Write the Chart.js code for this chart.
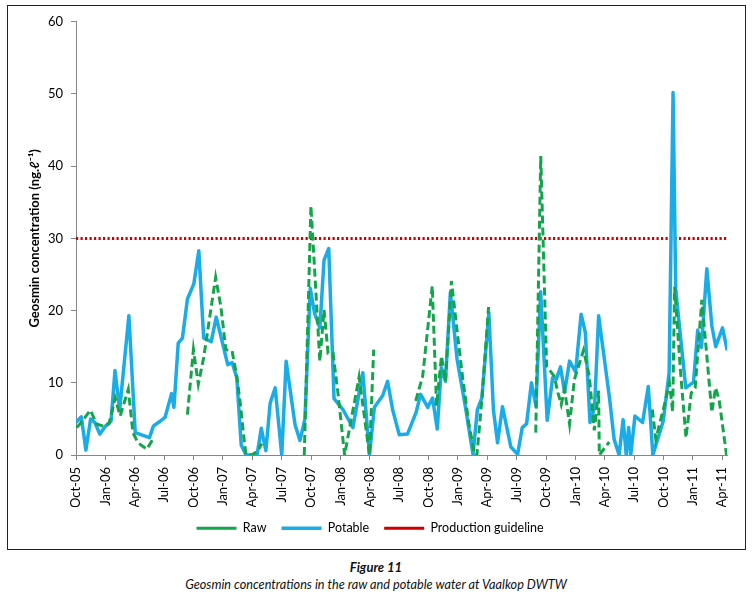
<!DOCTYPE html>
<html><head><meta charset="utf-8">
<script src="https://cdn.jsdelivr.net/npm/chart.js@4"></script>
<style>
html,body{margin:0;padding:0;background:#fff;width:752px;height:608px;overflow:hidden;}
#box{position:absolute;left:7px;top:5px;width:737px;height:543px;border:1px solid #222;}
#box canvas{display:block;}
.cap{position:absolute;left:0;width:752px;text-align:center;font-family:Lato,'Liberation Sans',sans-serif;font-style:italic;color:#111;font-size:12.7px;line-height:16px;}
</style></head>
<body>
<div id="box"><canvas id="c" width="737" height="543" style="width:737px;height:543px"></canvas></div>
<div class="cap" style="top:559px;font-weight:bold;font-size:13px;">Figure 11</div>
<div class="cap" style="top:576px;">Geosmin concentrations in the raw and potable water at Vaalkop DWTW</div>
<script>
const xTickLabels = ['Oct-05','Jan-06','Apr-06','Jul-06','Oct-06','Jan-07','Apr-07','Jul-07','Oct-07','Jan-08','Apr-08','Jul-08','Oct-08','Jan-09','Apr-09','Jul-09','Oct-09','Jan-10','Apr-10','Jul-10','Oct-10','Jan-11','Apr-11'];
const yTicks = [0,10,20,30,40,50,60];

// months since Oct-05
const potableMonths = [0,0.54,1.01,1.49,1.93,2.43,3.01,3.58,3.98,4.46,5.40,6.05,7.50,7.90,8.51,9.09,9.76,10.00,10.44,10.87,11.38,12.03,12.54,13.04,13.81,14.32,15.50,15.94,16.42,16.87,17.36,18.49,18.92,19.39,19.83,20.34,21.01,21.46,22.37,22.87,23.38,23.92,24.37,24.90,25.33,25.81,26.35,27.26,28.27,29.29,29.97,30.47,31.31,31.82,32.33,33.01,33.85,34.73,35.19,35.92,36.41,36.89,37.31,37.73,38.23,38.91,39.75,40.54,40.99,41.45,42.16,42.63,43.05,43.55,44.41,45.10,45.57,46.01,46.51,46.97,47.45,48.12,48.67,49.05,49.48,49.89,50.40,51.02,51.58,52.01,52.49,52.95,53.37,54.50,54.95,55.46,55.87,56.19,56.44,56.65,57.08,57.86,58.44,58.91,59.97,60.57,60.97,61.24,61.54,62.27,63.06,63.49,63.87,64.42,64.93,65.33,66.02,66.50];
const potableValues = [4.5,5.3,0.7,5.0,4.5,2.9,4.0,4.7,11.7,6.3,19.3,3.1,2.4,4.0,4.6,5.2,8.5,6.6,15.5,16.2,21.6,23.7,28.3,16.2,15.7,19.1,12.5,12.8,10.7,1.4,0,0,3.7,0.6,7.2,9.3,0,13.0,4.2,2.0,5.0,23.1,19.6,17.6,27.0,28.6,7.8,6.3,3.8,11.4,0,6.6,8.2,10.2,6.3,2.8,2.9,5.9,8.4,6.6,7.9,3.6,12.1,10.2,22.5,13.3,6.8,0.1,6.3,7.9,19.7,6.2,1.7,6.7,1.1,0.1,3.8,4.3,10.0,6.8,22.6,4.8,10.7,10.5,12.2,8.7,13.0,11.5,19.5,17.0,4.5,6.5,19.3,7.7,2.2,0,4.9,0,3.8,0,5.4,4.5,9.5,0,4.7,11.4,50.2,23.0,18.9,9.3,10.1,17.3,14.9,25.8,17.9,15.0,17.6,14.5];

const rawMonths = [0.07,0.41,1.47,2.10,2.77,3.37,4.00,4.51,5.34,5.81,6.32,7.23,7.90,8.5,11.38,11.99,12.49,13.04,14.26,14.80,15.30,15.94,16.42,16.79,17.20,17.36,17.94,18.58,18.98,20,23.31,23.99,24.39,24.90,25.33,25.74,26.25,26.75,27.43,28.91,29.97,30.40,33,34.69,35.40,36.38,36.82,37.32,37.73,38.34,38.91,39.42,40.10,40.71,40.94,41.45,42.13,45,46.95,47.46,48.06,48.84,49.22,49.55,49.89,50.40,50.90,51.83,52.42,52.93,53.37,53.44,54.45,57,58.85,59.21,60.19,60.60,60.93,61.13,61.71,62.29,62.83,63.23,63.91,64.93,65.31,65.67,66.43];
const rawValues = [3.8,4.3,6.2,4.3,4.0,4.3,7.9,5.4,9.1,3.1,1.7,0.8,2.3,null,5.6,14.6,9.8,13.5,24.6,20.5,14.6,14.4,10.9,7.0,1.7,0,0,0.6,1.6,null,0,34.5,25.1,13.0,20.1,14.1,14.1,8.6,0,10.8,0,14.6,null,7.5,10.9,23.4,6.8,13.7,10.2,24.1,17.3,11.4,4.5,0,0,7.7,20.5,null,3.1,41.4,12.3,10.9,8.6,7.0,9.1,4.3,10.5,14.5,10.9,3.4,8.9,0,1.8,null,6.3,2.2,7.5,10.0,6.0,23.3,12.0,2.4,8.6,9.3,21.5,5.9,9.3,7.7,0];

const guidelineValue = 30;
const guidelineMonths = [0, 66.5];

const pts = (xs, ys) => xs.map((x, i) => ({x: x, y: ys[i]}));

new Chart(document.getElementById('c'), {
  type: 'line',
  data: {
    datasets: [
      {label: 'Raw', data: pts(rawMonths, rawValues), borderColor: '#13A54B', backgroundColor: '#13A54B', borderWidth: 3, borderDash: [8, 4], pointRadius: 0, tension: 0, spanGaps: false, fill: false},
      {label: 'Potable', data: pts(potableMonths, potableValues), borderColor: '#19ACE6', backgroundColor: '#19ACE6', borderWidth: 3.5, pointRadius: 0, tension: 0, fill: false, borderJoinStyle: 'round'},
      {label: 'Production guideline', data: guidelineMonths.map(x => ({x: x, y: guidelineValue})), borderColor: '#CC0000', backgroundColor: '#CC0000', borderWidth: 3, borderDash: [2.2, 2.3], pointRadius: 0, fill: false}
    ]
  },
  options: {
    responsive: false,
    animation: false,
    layout: {padding: {left: 0, right: 12.8, top: 13, bottom: 4.5}},
    scales: {
      x: {
        type: 'linear', min: 0, max: 66.5,
        border: {color: '#868686', width: 1},
        grid: {drawOnChartArea: false, drawTicks: true, tickLength: 5, color: '#868686'},
        afterBuildTicks: s => { s.ticks = xTickLabels.map((_, i) => ({value: i * 3})); },
        ticks: {autoSkip: false, minRotation: 90, maxRotation: 90, padding: 7, color: '#000', font: {family: 'Lato', size: 13},
          callback: v => xTickLabels[Math.round(v / 3)]},
        afterFit: s => { s.height = 52; }
      },
      y: {
        min: 0, max: 60,
        afterBuildTicks: s => { s.ticks = yTicks.map(v => ({value: v})); },
        border: {color: '#868686', width: 1},
        grid: {drawOnChartArea: false, drawTicks: true, tickLength: 5, color: '#868686'},
        ticks: {padding: 8, color: '#000', font: {family: 'Lato', size: 13}},
        title: {display: true, text: 'Geosmin concentration (ng.ℓ⁻¹)', color: '#000', font: {family: 'Lato', size: 13, weight: 'bold'}, padding: {top: 19, bottom: 0}},
        afterFit: s => { s.width = 68; }
      }
    },
    plugins: {
      legend: {position: 'bottom', labels: {usePointStyle: true, pointStyle: 'line', pointStyleWidth: 40, padding: 15, color: '#000', font: {family: 'Lato', size: 12.5}}},
      tooltip: {enabled: false}
    }
  }
});
</script>
</body></html>
